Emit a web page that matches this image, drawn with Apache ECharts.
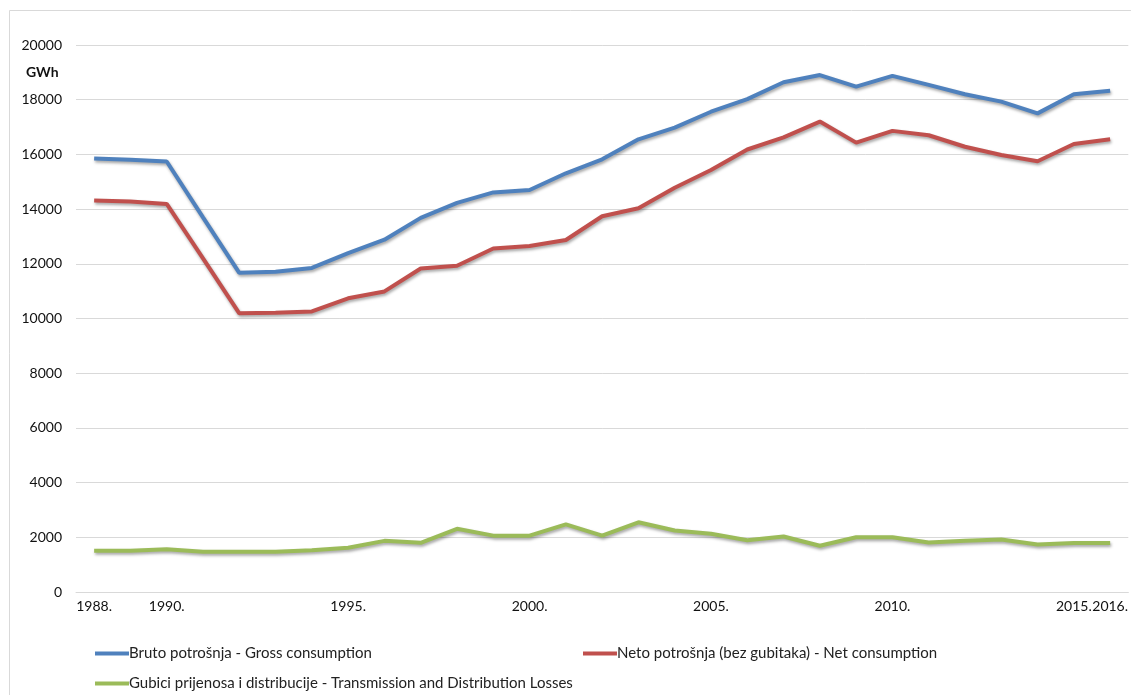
<!DOCTYPE html>
<html>
<head>
<meta charset="utf-8">
<script src="https://cdn.jsdelivr.net/npm/echarts@6/dist/echarts.min.js"></script>
<style>
html,body{margin:0;padding:0;background:#fff;}
#chart{width:1131px;height:695px;}
</style>
</head>
<body>
<div id="chart"></div>
<script>
const years = ['1988','1989','1990','1991','1992','1993','1994','1995','1996','1997','1998','1999','2000','2001','2002','2003','2004','2005','2006','2007','2008','2009','2010','2011','2012','2013','2014','2015','2016'];
const shownYears = ['1988','1990','1995','2000','2005','2010','2015','2016'];
const gross = [15850,15800,15740,13700,11670,11710,11850,12390,12880,13680,14230,14610,14700,15310,15820,16550,16980,17560,18020,18640,18900,18480,18870,18540,18200,17930,17500,18200,18330];
const net = [14310,14280,14190,12200,10190,10210,10260,10740,10990,11830,11930,12560,12650,12870,13740,14030,14780,15430,16180,16620,17200,16430,16860,16700,16280,15980,15750,16380,16550];
const losses = [1510,1510,1560,1470,1470,1470,1530,1620,1870,1800,2310,2060,2060,2470,2060,2550,2250,2130,1890,2030,1690,2000,2000,1810,1870,1920,1740,1790,1790];
const seriesNames = ['Bruto potrošnja - Gross consumption','Neto potrošnja (bez gubitaka) - Net consumption','Gubici prijenosa i distribucije - Transmission and Distribution Losses'];
const colors = ['#4F81BD','#C0504D','#9BBB59'];
const unitLabel = 'GWh';

const FONT = 'Lato';
const chart = echarts.init(document.getElementById('chart'), null, {renderer:'canvas'});

function lineSeries(name, data, color){
  return {
    name: name, type:'line', data: data, symbol:'none', smooth:false,
    lineStyle:{color:color, width:4, shadowColor:'rgba(0,0,0,0.35)', shadowBlur:3, shadowOffsetY:2, shadowOffsetX:1},
    itemStyle:{color:color},
    emphasis:{disabled:true}
  };
}
function legendFor(i, left, top){
  return {
    data:[seriesNames[i]], left:left, top:top, orient:'horizontal',
    icon:'rect', itemWidth:34, itemHeight:4, itemGap:0,
    textStyle:{fontFamily:FONT, fontSize:15, color:'#222', padding:[0,0,0,-5]},
    selectedMode:false
  };
}

chart.setOption({
  animation:false,
  backgroundColor:'#fff',
  graphic:[
    {type:'rect', shape:{x:9.5, y:10.5, width:1300, height:900}, style:{fill:'none', stroke:'#d9d9d9', lineWidth:1}, silent:true, z:-1},
    {type:'text', left:26, top:65, style:{text:unitLabel, font:'bold 14px ' + FONT, fill:'#111'}}
  ],
  grid:{left:76, right:0, top:45, bottom:103, containLabel:false},
  legend:[legendFor(0, 90, 641), legendFor(1, 578, 641), legendFor(2, 90, 671)],
  xAxis:{
    type:'category', data:years, boundaryGap:true,
    axisLine:{show:true, lineStyle:{color:'#d9d9d9', width:1}},
    axisTick:{show:false},
    axisLabel:{
      interval:0, margin:7, color:'#111', fontFamily:FONT, fontSize:14,
      formatter:function(v){ return shownYears.indexOf(v) >= 0 ? v + '.' : ''; }
    },
    splitLine:{show:false}
  },
  yAxis:{
    type:'value', min:0, max:20000, interval:2000,
    axisLine:{show:false}, axisTick:{show:false},
    axisLabel:{margin:14, color:'#111', fontFamily:FONT, fontSize:14, formatter:function(v){ return String(v); }},
    splitLine:{show:true, lineStyle:{color:'#d9d9d9', width:1}}
  },
  series:[
    lineSeries(seriesNames[0], gross, colors[0]),
    lineSeries(seriesNames[1], net, colors[1]),
    lineSeries(seriesNames[2], losses, colors[2])
  ]
});
</script>
</body>
</html>
